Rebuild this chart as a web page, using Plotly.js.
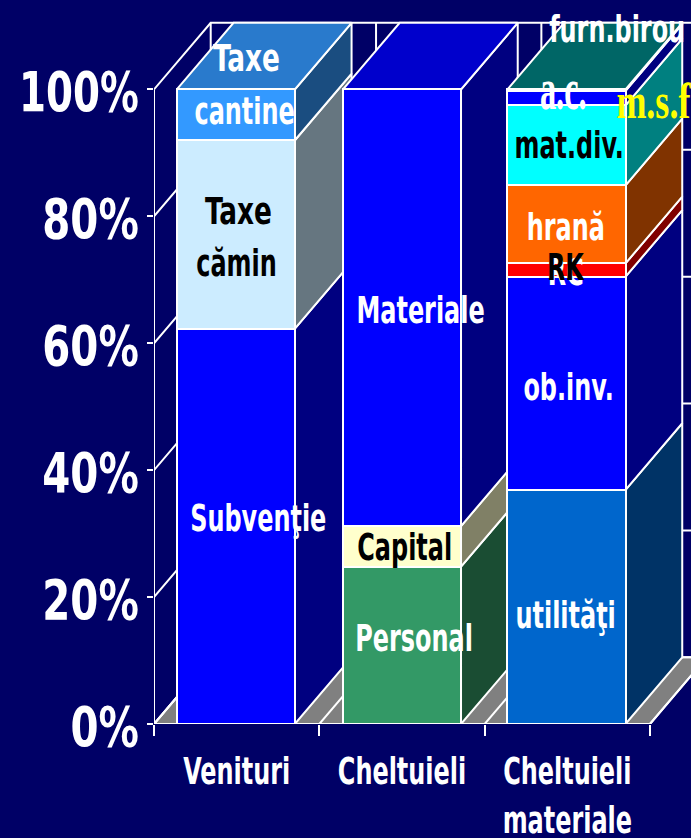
<!DOCTYPE html>
<html><head><meta charset="utf-8">
<script src="https://cdn.plot.ly/plotly-2.35.2.min.js"></script>
<style>html,body{margin:0;padding:0;background:#000066;overflow:hidden}#c{width:691px;height:838px}</style>
</head><body><div id="c"></div>
<script>
const categories = ['Venituri', 'Cheltuieli', 'Cheltuieli<br>materiale'];
const barCenters = [0.495, 1.5, 2.495];
const yTicks = [0, 20, 40, 60, 80, 100];
const col0Names = ['Subvenţie', 'Taxe cămin', 'Taxe cantine'];
const col0Values = [62.3, 29.7, 8.0];
const col0Colors = ['#0000FF', '#CCECFF', '#3399FF'];
const col1Names = ['Personal', 'Capital', 'Materiale'];
const col1Values = [24.8, 6.4, 68.8];
const col1Colors = ['#339966', '#FFFFCC', '#0000FF'];
const col2Names = ['utilităţi', 'ob.inv.', 'RK', 'hrană', 'mat.div.', 'a.c.', 'furn.birou'];
const col2Values = [36.9, 33.6, 2.1, 12.3, 12.6, 2.3, 0.2];
const col2Colors = ['#0066CC', '#0000FF', '#FF0000', '#FF6600', '#00FFFF', '#0000FF', '#008080'];

// chart depth and widths in axis units
const depthX = 0.343, depthY = 10.5, barWidth = 0.714;
const xMax = 3.248, yMax = 114.1;
const bg = '#000066', edge = '#FFFFFF';

const labelText = ['Taxe','cantine','Taxe','cămin','Subvenţie','Materiale','Capital','Personal','furn.birou','mat.div.','hrană','RC','RK','ob.inv.','utilităţi'];
const labelX = [0.562,0.55,0.51,0.5,0.635,1.61,1.515,1.575,2.80,2.51,2.49,2.49,2.49,2.51,2.49];
const labelY = [105,96.6,80.8,72.7,32.5,65.3,27.9,13.5,109.5,91.2,78.3,71.2,72.1,53.1,17.2];
const labelColor = ['#fff','#fff','#000','#000','#fff','#fff','#000','#fff','#fff','#000','#fff','#fff','#000','#fff','#fff'];

const narrow = '"DejaVu Sans Condensed",sans-serif';

function shade(hex, f) {
  const n = parseInt(hex.slice(1), 16);
  const c = [n >> 16 & 255, n >> 8 & 255, n & 255].map(v => Math.round(v * f));
  return 'rgb(' + c.join(',') + ')';
}
function poly(xs, ys, fill) {
  return {type:'scatter', mode:'lines', x:xs, y:ys, fill:'toself', fillcolor:fill,
    line:{color:edge, width:2}, hoverinfo:'skip', showlegend:false, cliponaxis:false};
}

const traces = [];
const nCat = categories.length;
traces.push(poly([0,nCat,nCat+depthX,depthX,0],[0,0,depthY,depthY,0],'#808080'));
const gx = [], gy = [];
yTicks.forEach(v => {
  gx.push(0, depthX, nCat + depthX, null);
  gy.push(v, v + depthY, v + depthY, null);
});
for (let i = 0; i <= nCat; i++) {
  gx.push(i + depthX, i + depthX, null); gy.push(depthY, 100 + depthY, null);
  gx.push(i, i + depthX, null); gy.push(0, depthY, null);
}
gx.push(0, 0, null, 0, nCat); gy.push(0, 100, null, 0, 0);
traces.push({type:'scatter', mode:'lines', x:gx, y:gy, line:{color:edge, width:2},
  hoverinfo:'skip', showlegend:false, cliponaxis:false, connectgaps:false});

const columns = [[col0Names,col0Values,col0Colors],[col1Names,col1Values,col1Colors],[col2Names,col2Values,col2Colors]];
columns.forEach((col, i) => {
  const r = barCenters[i] + barWidth / 2, l = barCenters[i] - barWidth / 2;
  let base = 0;
  col[1].forEach((v, k) => {
    const top = base + v;
    traces.push(poly([r, r + depthX, r + depthX, r, r],
      [base, base + depthY, top + depthY, top, base], shade(col[2][k], 0.5)));
    base = top;
  });
  traces.push(poly([l, r, r + depthX, l + depthX, l],
    [base, base, base + depthY, base + depthY, base], shade(col[2][col[2].length - 1], 0.8)));
});
columns.forEach((col, i) => {
  col[1].forEach((v, k) => {
    traces.push({type:'bar', x:[barCenters[i]], y:[v], width:barWidth, name:col[0][k],
      marker:{color:col[2][k], line:{color:edge, width:2}},
      xaxis:'x2', yaxis:'y2', showlegend:false, cliponaxis:false, hoverinfo:'name+y'});
  });
});

const anns = labelText.map((t, i) => ({
  x:labelX[i], y:labelY[i], xref:'x2', yref:'y2', text:t, showarrow:false,
  font:{family:narrow, size:38, color:labelColor[i], weight:'bold'}
}));
const serifFont = '"Liberation Serif",serif';
anns.push({x:2.475, y:100, xref:'x2', yref:'y2', text:'a.c.', showarrow:false,
  font:{family:serifFont, size:60, color:'#fff', weight:'bold'}});
anns.push({x:2.70, y:98.2, xref:'x2', yref:'y2', xanchor:'left', text:'m.s.f', showarrow:false,
  font:{family:serifFont, size:50, color:'#FFFF00', weight:'bold'}});

const layout = {
  width:691, height:838, margin:{l:154, r:0, t:0, b:114, pad:0},
  paper_bgcolor:bg, plot_bgcolor:bg, barmode:'stack', bargap:0, showlegend:false,
  xaxis:{range:[0,xMax], tickmode:'array', tickvals:[0,1,2,3], ticktext:['','','',''],
    ticks:'outside', ticklen:11, tickwidth:2, tickcolor:edge, showgrid:false, zeroline:false, showline:false, fixedrange:true},
  yaxis:{range:[0,yMax], tickmode:'array', tickvals:yTicks, ticktext:yTicks.map(v => v + '%'),
    ticks:'outside', ticklen:6, tickwidth:2, tickcolor:edge, showgrid:false, zeroline:false, showline:false, fixedrange:true,
    tickfont:{family:narrow, size:56, color:'#fff', weight:'bold'}},
  xaxis2:{overlaying:'x', anchor:'y2', range:[0,xMax], tickmode:'array', tickvals:[0.5,1.5,2.5], ticktext:categories,
    ticks:'', tickangle:0, ticklabelstandoff:21, showgrid:false, zeroline:false, showline:false, fixedrange:true,
    tickfont:{family:narrow, size:38, color:'#fff', weight:'bold'}},
  yaxis2:{overlaying:'y', anchor:'x2', range:[0,yMax], visible:false, fixedrange:true},
  annotations:anns
};
// horizontal squeeze of the real text, as the reference's condensed lettering
function squeeze(el, f) {
  const w = el.getComputedTextLength();
  el.setAttribute('textLength', (w * f).toFixed(1));
  el.setAttribute('lengthAdjust', 'spacingAndGlyphs');
}
Plotly.newPlot('c', traces, layout, {displayModeBar:false, staticPlot:true}).then(gd => {
  gd.querySelectorAll('.annotation-text').forEach(t => {
    const s = t.textContent;
    squeeze(t, s === 'a.c.' ? 0.54 : s === 'm.s.f' ? 0.72 : s === 'Taxe' ? 0.77 : 0.70);
  });
  gd.querySelectorAll('.ytick text').forEach(t => {
    squeeze(t, t.textContent === '100%' ? 0.77 : 0.80);
    t.setAttribute('dx', '3');
    t.setAttribute('dy', '2');
  });
  gd.querySelectorAll('.x2tick text').forEach(t => {
    const lines = t.querySelectorAll('tspan.line');
    if (lines.length) lines.forEach(s => squeeze(s, 0.70)); else squeeze(t, 0.70);
  });
});
</script></body></html>
